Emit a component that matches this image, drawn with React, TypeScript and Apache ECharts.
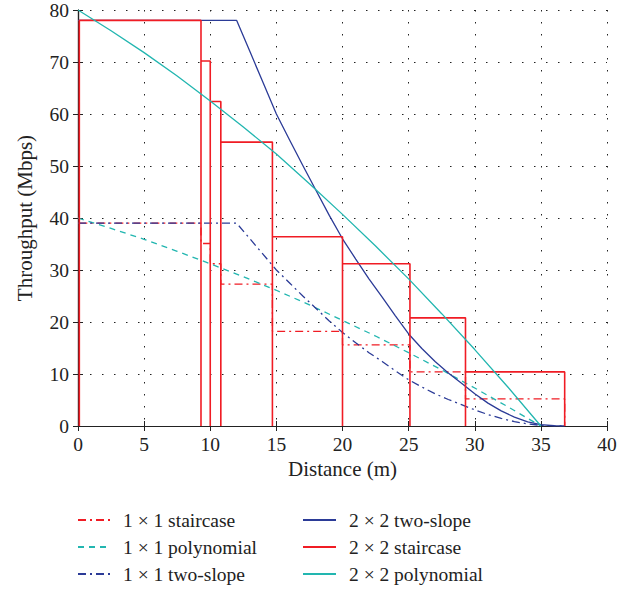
import React, { useEffect, useRef } from "react";
import * as echarts from "echarts";

// Staircase step boundaries (m) and rate levels (Mbps)
const stepX = [0.1, 9.3, 10.0, 10.8, 14.7, 20.0, 25.1, 29.3, 36.8];
const stair2x2 = [78, 70.2, 62.4, 54.6, 36.4, 31.2, 20.8, 10.4];
const stair1x1 = [39, 35.1, 31.2, 27.3, 18.2, 15.6, 10.4, 5.2];

// Two-slope model
const twoSlopeX = [0, 12, 13, 14, 15, 16, 17, 18, 19, 20, 21, 22, 23, 24, 25, 26, 27, 28, 29, 30, 31, 32, 33, 34, 35, 36, 36.8];
const twoSlope2x2 = [78, 78, 72, 66, 60, 55, 50.1, 45.3, 40.5, 36, 32.1, 28.3, 24.8, 21.2, 17.7, 14.9, 12.4, 10.2, 8.2, 6.2, 4.4, 2.9, 1.7, 0.8, 0.25, 0.05, 0];
const twoSlope1x1 = [39, 39, 36, 33, 30, 27.5, 25, 22.6, 20.2, 18, 16, 14.1, 12.4, 10.6, 8.9, 7.5, 6.2, 5.1, 4.1, 3.1, 2.2, 1.45, 0.85, 0.4, 0.12, 0.02, 0];

// Polynomial model
const polyX = [0, 2.5, 5, 7.5, 10, 12.5, 15, 17.5, 20, 22.5, 25, 27.5, 30, 32.5, 35];
const poly2x2 = [80, 76, 71.8, 67.3, 62.5, 57.5, 52.3, 46.6, 40.7, 34.6, 28.3, 21.6, 14.7, 7.5, 0];
const poly1x1 = [40, 38, 35.9, 33.6, 31.2, 28.7, 26.1, 23.3, 20.3, 17.3, 14.1, 10.8, 7.3, 3.7, 0];

const xTicks = [0, 5, 10, 15, 20, 25, 30, 35, 40];
const yTicks = [0, 10, 20, 30, 40, 50, 60, 70, 80];

const RED = "#f01c24";
const BLUE = "#2b3b97";
const CYAN = "#22b6b0";
const FONT = "Liberation Serif";

function stairBars(xs: number[], levels: number[]) {
  const pts: number[][] = [];
  for (let i = 0; i < levels.length; i++) {
    pts.push([xs[i], 0], [xs[i], levels[i]], [xs[i + 1], levels[i]], [xs[i + 1], 0]);
  }
  return pts;
}
function stairLine(xs: number[], levels: number[]) {
  const pts: number[][] = [];
  for (let i = 0; i < levels.length; i++) {
    pts.push([xs[i], levels[i]], [xs[i + 1], levels[i]]);
  }
  pts.push([xs[xs.length - 1], 0]);
  return pts;
}
const zip = (xs: number[], ys: number[]) => xs.map((x, i) => [x, ys[i]]);

export default function App() {
  const ref = useRef<HTMLDivElement>(null);
  useEffect(() => {
    const chart = echarts.init(ref.current!, null, { renderer: "svg" });
    const dashDot = [8, 4, 2, 4];
    const dashed = [6, 5];
    const gridLine = { show: true, lineStyle: { color: "#222", type: [1.5, 10.5], width: 1 } };
    const labelStyle = { fontFamily: FONT, fontSize: 19.5, color: "#222" };
    const axisLine = { show: true, lineStyle: { color: "#222", width: 1.2 } };
    const tick = { show: true, inside: true, length: 5, lineStyle: { color: "#222" } };
    const base = { type: "value", min: 0, interval: 10 };
    const line = (name: string, data: number[][], color: string, type: any, z: number, w = 1.3) => ({
      name,
      type: "line",
      data,
      symbol: "none",
      showSymbol: false,
      z,
      lineStyle: { color, width: w, type },
      itemStyle: { color },
    });
    const legendCommon = {
      orient: "vertical",
      top: 510,
      height: 80,
      padding: 0,
      itemWidth: 33,
      itemHeight: 12,
      itemGap: 7,
      itemStyle: { opacity: 0, color: "transparent", borderWidth: 0 },
    };
    chart.setOption({
      animation: false,
      grid: { left: 78, right: 31, top: 7, bottom: 164 },
      xAxis: [
        {
          type: "value", min: 0, max: 40, interval: 5,
          axisLine, axisTick: tick, splitLine: gridLine,
          axisLabel: { ...labelStyle, margin: 8, formatter: (v: number) => (xTicks.includes(v) ? String(v) : "") },
          name: "Distance (m)", nameLocation: "middle", nameGap: 32,
          nameTextStyle: { fontFamily: FONT, fontSize: 21, color: "#222" },
        },
        {
          type: "value", min: 0, max: 40, interval: 5, position: "top",
          axisLine, axisTick: tick, splitLine: { show: false }, axisLabel: { show: false },
        },
      ],
      yAxis: [
        {
          ...base, max: 80,
          axisLine, axisTick: tick, splitLine: gridLine,
          axisLabel: { ...labelStyle, margin: 9, formatter: (v: number) => (yTicks.includes(v) ? String(v) : "") },
          name: "Throughput (Mbps)", nameLocation: "middle", nameGap: 43,
          nameTextStyle: { fontFamily: FONT, fontSize: 21, color: "#222" },
        },
        {
          ...base, max: 80, position: "right",
          axisLine, axisTick: tick, splitLine: { show: false }, axisLabel: { show: false },
        },
      ],
      legend: [
        {
          ...legendCommon,
          left: 77,
          textStyle: { fontFamily: FONT, fontSize: 19.5, color: "#222", padding: [0, 0, 0, 7] },
          data: ["1 × 1 staircase", "1 × 1 polynomial", "1 × 1 two-slope"],
        },
        {
          ...legendCommon,
          left: 302,
          textStyle: { fontFamily: FONT, fontSize: 19.5, color: "#222", padding: [0, 0, 0, 8] },
          data: ["2 × 2 two-slope", "2 × 2 staircase", "2 × 2 polynomial"],
        },
      ],
      series: [
        line("1 × 1 staircase", stairLine(stepX, stair1x1), RED, dashDot, 2),
        line("1 × 1 polynomial", zip(polyX, poly1x1), CYAN, dashed, 2),
        line("1 × 1 two-slope", zip(twoSlopeX, twoSlope1x1), BLUE, dashDot, 2),
        line("2 × 2 two-slope", zip(twoSlopeX, twoSlope2x2), BLUE, "solid", 3),
        line("2 × 2 staircase", stairBars(stepX, stair2x2), RED, "solid", 3, 1.6),
        line("2 × 2 polynomial", zip(polyX, poly2x2), CYAN, "solid", 4),
      ],
    });
    return () => chart.dispose();
  }, []);
  return <div ref={ref} style={{ position: "absolute", left: 0, top: 0, width: 638, height: 590 }} />;
}
